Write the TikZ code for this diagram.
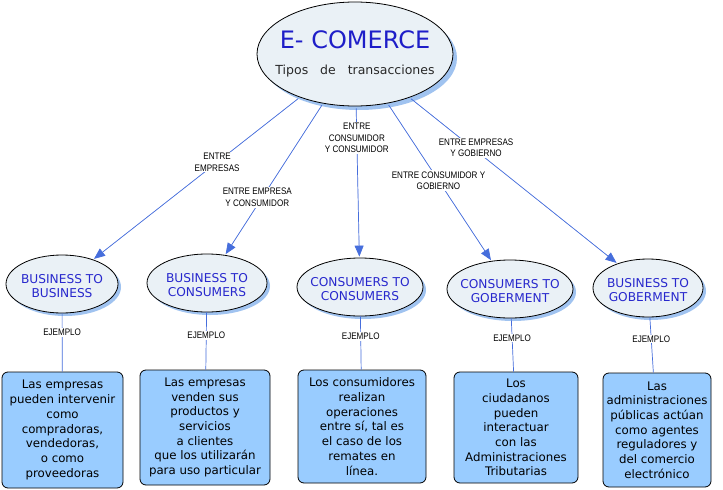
\documentclass[tikz,border=0pt]{standalone}
\usepackage{fontspec}
\setmainfont{DejaVu Sans}
\newfontfamily\lblfont[FakeStretch=0.85]{Liberation Sans}
\usetikzlibrary{shapes.geometric,arrows.meta,shadows}
\definecolor{ellfill}{RGB}{234,241,246}
\definecolor{shadowc}{RGB}{160,195,240}
\definecolor{boxfill}{RGB}{153,204,255}
\definecolor{lineblue}{RGB}{70,110,220}
\definecolor{titleblue}{RGB}{30,30,200}
\definecolor{childblue}{RGB}{40,40,205}
\newcommand{\zw}[1]{\makebox[0pt][c]{\begin{tabular}{@{}c@{}}#1\end{tabular}}}
\newcommand{\zwl}[1]{\makebox[0pt][c]{\raisebox{-3.5pt}[\height][\depth]{\begin{tabular}{@{}c@{}}#1\end{tabular}}}}
\tikzset{
  topell/.style={ellipse, draw=black, line width=0.8pt, fill=ellfill, inner sep=0pt,
    minimum width=196pt, minimum height=104pt, align=center,
    drop shadow={shadow xshift=4pt, shadow yshift=-4pt, fill=shadowc, opacity=1}},
  childell/.style={ellipse, draw=black, line width=0.8pt, fill=ellfill, inner sep=0pt,
    minimum height=58pt, align=center, text=childblue,
    font=\fontsize{12.2}{14}\selectfont,
    drop shadow={shadow xshift=3pt, shadow yshift=-3pt, fill=shadowc, opacity=1}},
  infobox/.style={rectangle, rounded corners=6pt, draw=black, line width=0.8pt, fill=boxfill,
    inner sep=0pt, align=center, font=\fontsize{11.8}{14.7}\selectfont},
  arr/.style={draw=lineblue, line width=0.7pt, -{Triangle[length=11pt,width=9pt]}, fill=lineblue,
    shorten <=2pt, shorten >=1pt},
  plain/.style={draw=lineblue, line width=0.7pt},
  lbl/.style={fill=white, text=black, inner sep=1pt, align=center,
    font=\lblfont\fontsize{9.5}{11.5}\selectfont},
}
\begin{document}
\begin{tikzpicture}[x=1pt,y=-1pt]
\useasboundingbox[fill=white] (0,0) rectangle (723,490);

\node[topell] (top) at (355,54) {\zw{{\fontsize{24}{28}\selectfont\color{titleblue}E- COMERCE}\\[13pt]
  {\fontsize{12.5}{14}\selectfont\color[RGB]{40,40,40}Tipos\ \ \ de\ \ \ transacciones}}};

\node[childell, minimum width=112pt] (c1) at (62,284) {\zwl{BUSINESS TO\\BUSINESS}};
\node[childell, minimum width=120pt] (c2) at (207,283) {\zwl{BUSINESS TO\\CONSUMERS}};
\node[childell, minimum width=126pt] (c3) at (360,287) {\zwl{CONSUMERS TO\\CONSUMERS}};
\node[childell, minimum width=126pt] (c4) at (510,289) {\zwl{CONSUMERS TO\\GOBERMENT}};
\node[childell, minimum width=110pt] (c5) at (648,288) {\zwl{BUSINESS TO\\GOBERMENT}};

\node[infobox, minimum width=121pt, minimum height=116pt] (b1) at (62.5,430)
  {Las empresas\\pueden intervenir\\como\\compradoras,\\vendedoras,\\o como\\proveedoras};
\node[infobox, minimum width=130pt, minimum height=115pt] (b2) at (205,427.5)
  {Las empresas\\venden sus\\productos y\\servicios\\a clientes\\que los utilizarán\\para uso particular};
\node[infobox, minimum width=128pt, minimum height=113pt] (b3) at (362,426.5)
  {Los consumidores\\realizan\\operaciones\\entre sí, tal es\\el caso de los\\remates en\\línea.};
\node[infobox, minimum width=124pt, minimum height=111pt] (b4) at (516,427.5)
  {Los\\ciudadanos\\pueden\\interactuar\\con las\\Administraciones\\Tributarias};
\node[infobox, minimum width=108pt, minimum height=114pt] (b5) at (657,430)
  {Las\\administraciones\\públicas actúan\\como agentes\\reguladores y\\del comercio\\electrónico};

\draw[arr] (top) -- node[lbl, pos=0.40] (l1) {ENTRE\\EMPRESAS} (c1);
\draw[arr] (top) -- node[lbl, pos=0.62, xshift=-5pt] (l2) {ENTRE EMPRESA\\Y CONSUMIDOR} (c2);
\draw[arr] (top) -- node[lbl, pos=0.21] (l3) {ENTRE\\CONSUMIDOR\\Y CONSUMIDOR} (c3);
\draw[arr] (top) -- node[lbl, pos=0.49] (l4) {ENTRE CONSUMIDOR Y\\GOBIERNO} (c4);
\draw[arr] (top) -- node[lbl, pos=0.32, yshift=3pt] (l5) {ENTRE EMPRESAS\\Y GOBIERNO} (c5);

\draw[plain] (c1) -- node[lbl, pos=0.33] (e1) {EJEMPLO} (b1);
\draw[plain] (c2) -- node[lbl, pos=0.40] (e2) {EJEMPLO} (b2);
\draw[plain] (c3) -- node[lbl, pos=0.38] (e3) {EJEMPLO} (b3);
\draw[plain] (c4) -- node[lbl, pos=0.37] (e4) {EJEMPLO} (b4);
\draw[plain] (c5) -- node[lbl, pos=0.39] (e5) {EJEMPLO} (b5);
\end{tikzpicture}
\end{document}
